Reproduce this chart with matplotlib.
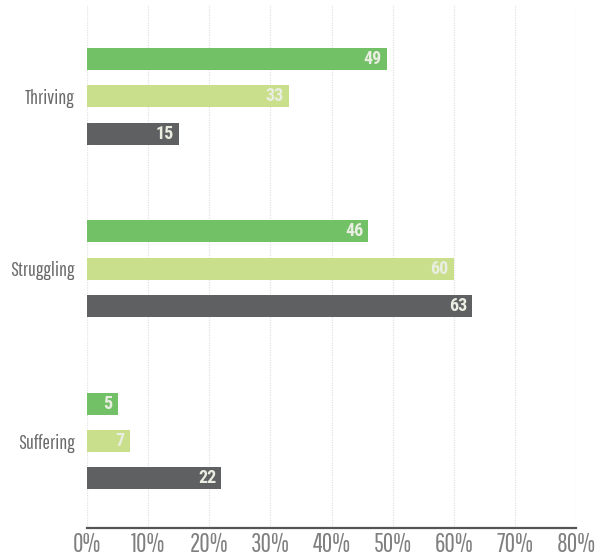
import numpy as np
import matplotlib.pyplot as plt

categories = ["Thriving", "Struggling", "Suffering"]
series_a = [49, 46, 5]
series_b = [33, 60, 7]
series_c = [15, 63, 22]
x_ticks = [0, 10, 20, 30, 40, 50, 60, 70, 80]
x_labels = [f"{t}%" for t in x_ticks]

colors = ["#73c167", "#c9df8b", "#5f6062"]

plt.rcParams["font.family"] = ["Pathway Gothic One", "DejaVu Sans"]

fig = plt.figure(figsize=(6.02, 5.58), dpi=100)
ax = fig.add_axes([87 / 602, 1 - 528 / 558, (576 - 87) / 602, (528 - 5) / 558])

y = np.arange(len(categories))
off = 0.217
h = 0.1275
for k, vals in enumerate([series_a, series_b, series_c]):
    pos = y + (k - 1) * off
    ax.barh(pos, vals, height=h, color=colors[k], zorder=2)
    for p, v in zip(pos, vals):
        ax.text(v - 0.8, p, str(v), ha="right", va="center", color="#eaeee2",
                fontsize=13, fontweight="bold", family=["Roboto Condensed", "DejaVu Sans"],
                zorder=3)

ax.set_ylim(2.504, -0.528)
ax.set_xlim(0, 80)
ax.set_yticks(y)
ax.set_yticklabels(categories, fontsize=14.5, color="#6a6a6a")
ax.set_xticks(x_ticks)
ax.set_xticklabels(x_labels, fontsize=18.5, color="#808080")
ax.tick_params(axis="both", length=0)
ax.tick_params(axis="y", pad=9)
ax.tick_params(axis="x", pad=3)

ax.grid(axis="x", color="#e3e3e3", linestyle=(0, (1, 1)), linewidth=0.9, zorder=0)
for s in ["top", "right", "left"]:
    ax.spines[s].set_visible(False)
ax.spines["bottom"].set_color("#555555")
ax.spines["bottom"].set_linewidth(1.6)

fig.savefig("out.png", dpi=100)
